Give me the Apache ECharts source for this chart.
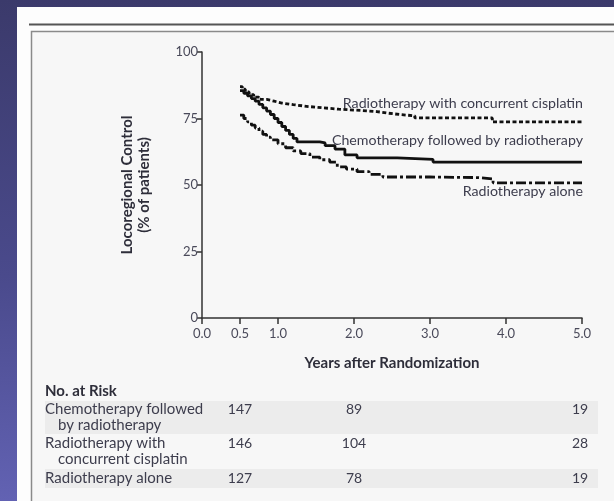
<!DOCTYPE html>
<html>
<head>
<meta charset="utf-8">
<script src="https://cdn.jsdelivr.net/npm/echarts@6/dist/echarts.min.js"></script>
<style>
    html, body { margin: 0; padding: 0; }
    body { background: linear-gradient(180deg, #3b3a6b 0%, #4a4a8c 55%, #6262b3 100%); }
    #body-con { width: 614px; height: 501px; }
</style>
</head>
<body>
<div id="body-con"></div>
<script>
// 数据
var seriesNames = ['Radiotherapy with concurrent cisplatin', 'Chemotherapy followed by radiotherapy', 'Radiotherapy alone'];

var cisplatinData = [[0.5, 87], [0.53, 86], [0.57, 85], [0.62, 84], [0.68, 83], [0.75, 82.2], [0.85, 81.5], [0.95, 80.8],
    [1.05, 80.2], [1.2, 79.5], [1.4, 79], [1.6, 78.5], [1.8, 78], [2.1, 77.6], [2.3, 77], [2.45, 76.5], [2.6, 76],
    [2.8, 75.2], [3.82, 73.7], [5.0, 73.7]];
var chemoData = [[0.5, 85.5], [0.55, 84.5], [0.6, 83.5], [0.65, 82.5], [0.7, 81.5], [0.75, 80.3], [0.8, 79], [0.85, 77.8],
    [0.9, 76.5], [0.95, 75], [1.0, 73.5], [1.05, 72], [1.1, 70.5], [1.15, 69], [1.2, 67.5], [1.25, 66.2], [1.55, 65.8],
    [1.62, 64.8], [1.75, 63.5], [1.88, 61.3], [2.04, 60.2], [2.57, 59.6], [3.04, 58.6], [5.0, 58.6]];
var aloneData = [[0.5, 76.3], [0.55, 75], [0.6, 73.7], [0.65, 72.5], [0.7, 71.4], [0.75, 70.2], [0.8, 69], [0.85, 68],
    [0.9, 67], [1.0, 65.5], [1.1, 64], [1.2, 62.8], [1.3, 61.8], [1.42, 60.5], [1.55, 59.5], [1.68, 58.6], [1.78, 56.8],
    [1.9, 56], [2.04, 55], [2.2, 54], [2.38, 53], [3.0, 52.8], [3.62, 52.3], [3.83, 50.8], [5.0, 50.8]];

var xTicks = [0, 0.5, 1, 2, 3, 4, 5];

// No. at Risk
var riskYears = [0.5, 2.0, 5.0];
var riskLabels = [['Chemotherapy followed', 'by radiotherapy'], ['Radiotherapy with', 'concurrent cisplatin'], ['Radiotherapy alone']];
var riskChemo = [147, 89, 19];
var riskCisplatin = [146, 104, 28];
var riskAlone = [127, 78, 19];
var riskRows = [riskChemo, riskCisplatin, riskAlone];

var font = 'Lato, "Open Sans", sans-serif';
var textColor = '#3d3d4d';
var lblSize = 14.2;

var myChart1 = echarts.init(document.getElementById('body-con'));

function endLabel(vAlign, dy) {
    return {
        show: true,
        formatter: '{a}',
        align: 'right',
        verticalAlign: vAlign,
        distance: 0,
        offset: [1, dy],
        fontFamily: font,
        fontSize: lblSize,
        color: textColor
    };
}

var option = {
    animation: false,
    backgroundColor: 'transparent',
    grid: {
        left: 202,
        right: 32,
        top: 52,
        bottom: 183
    },
    xAxis: {
        type: 'value',
        min: 0,
        max: 5,
        interval: 0.5,
        name: 'Years after Randomization',
        nameLocation: 'middle',
        nameGap: 38,
        nameTextStyle: { fontFamily: font, fontSize: 15, fontWeight: 'bold', color: '#2e2e3a' },
        axisLine: { lineStyle: { color: '#333', width: 1.5 } },
        axisTick: { show: true, length: 6, lineStyle: { color: '#333', width: 1.5 }, customValues: xTicks },
        axisLabel: {
            customValues: xTicks,
            margin: 9,
            fontFamily: font,
            fontSize: 13,
            color: '#4a4a5a',
            formatter: function (v) { return v.toFixed(1); }
        },
        splitLine: { show: false }
    },
    yAxis: {
        type: 'value',
        min: 0,
        max: 100,
        interval: 25,
        name: 'Locoregional Control\n(% of patients)',
        nameLocation: 'middle',
        nameGap: 49,
        nameTextStyle: { fontFamily: font, fontSize: 15, fontWeight: 'bold', color: '#2e2e3a', lineHeight: 17 },
        axisLine: { show: true, lineStyle: { color: '#333', width: 1.5 } },
        axisTick: { show: true, length: 5, lineStyle: { color: '#333', width: 1.5 } },
        axisLabel: { margin: 4, fontFamily: font, fontSize: 13, color: '#4a4a5a' },
        splitLine: { show: false }
    },
    series: [
        {
            name: seriesNames[0],
            type: 'line',
            step: 'end',
            symbol: 'none',
            data: cisplatinData,
            lineStyle: { color: '#111', width: 2.8, type: [4, 2.5] },
            endLabel: endLabel('bottom', -12)
        },
        {
            name: seriesNames[1],
            type: 'line',
            step: 'end',
            symbol: 'none',
            data: chemoData,
            lineStyle: { color: '#111', width: 2.8, type: 'solid' },
            endLabel: endLabel('bottom', -15)
        },
        {
            name: seriesNames[2],
            type: 'line',
            step: 'end',
            symbol: 'none',
            data: aloneData,
            lineStyle: { color: '#111', width: 2.8, type: [10, 3, 3, 3] },
            endLabel: endLabel('top', 2)
        }
    ]
};
myChart1.setOption(option);

// 面板 + No. at Risk 表格
var graphic = [
    { type: 'rect', z: -10, shape: { x: 17, y: 7, width: 600, height: 500 }, style: { fill: '#fdfdfd' } },
    { type: 'line', z: -9, shape: { x1: 29, y1: 24.5, x2: 614, y2: 24.5 }, style: { stroke: '#555', lineWidth: 2 } },
    { type: 'rect', z: -9, shape: { x: 31.5, y: 31.5, width: 600, height: 480 }, style: { fill: '#f7f7f7', stroke: '#8a8a8a', lineWidth: 1.5 } },
    { type: 'rect', z: -8, shape: { x: 45, y: 401, width: 553, height: 33 }, style: { fill: '#ececec' } },
    { type: 'rect', z: -8, shape: { x: 45, y: 469, width: 553, height: 19 }, style: { fill: '#ececec' } },
    { type: 'text', x: 45, y: 391, style: { text: 'No. at Risk', font: 'bold 15px ' + font, fill: '#2e2e3a', verticalAlign: 'middle' } }
];

var rowY = [409, 443, 478];
riskRows.forEach(function (row, i) {
    riskLabels[i].forEach(function (t, j) {
        graphic.push({
            type: 'text',
            x: j === 0 ? 45 : 58,
            y: rowY[i] + j * 16.5,
            style: { text: t, font: '15px ' + font, fill: textColor, verticalAlign: 'middle' }
        });
    });
    row.forEach(function (n, k) {
        var px = myChart1.convertToPixel({ xAxisIndex: 0 }, riskYears[k]);
        graphic.push({
            type: 'text',
            x: k === 2 ? px - 2 : px,
            y: rowY[i],
            style: { text: String(n), font: '14px ' + font, fill: textColor, align: 'center', verticalAlign: 'middle' }
        });
    });
});

myChart1.setOption({ graphic: graphic });
</script>
</body>
</html>
